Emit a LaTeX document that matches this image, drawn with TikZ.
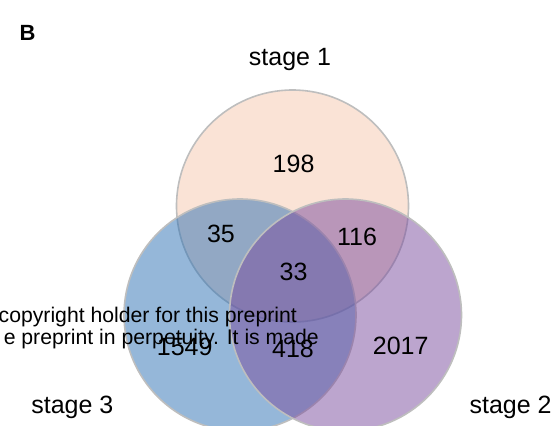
\documentclass[tikz,border=0pt]{standalone}
\usepackage{fontspec}
\setmainfont{Liberation Sans}
\definecolor{stageone}{RGB}{245,199,173}
\definecolor{stagetwo}{RGB}{121,75,157}
\definecolor{stagethree}{RGB}{43,111,179}
\definecolor{rimgray}{RGB}{190,190,190}
\begin{document}
\begin{tikzpicture}[x=1pt, y=-1pt,
  venn/.style={circle, draw=rimgray, line width=1.6pt, fill opacity=0.5, minimum size=232pt, inner sep=0pt},
  count/.style={anchor=base, inner sep=0pt, font=\fontsize{25}{30}\selectfont},
  stagelabel/.style={anchor=base, inner sep=0pt, font=\fontsize{25}{30}\selectfont},
  stamp/.style={anchor=base east, inner sep=0pt, font=\fontsize{21.2}{25}\selectfont}]
\useasboundingbox (0,0) rectangle (555,426); % Bildgroesse
\clip (0,0) rectangle (555,426);
% Kreise
\node[venn, fill=stageone] (c1) at (292.5,206) {};
\node[venn, fill=stagethree] (c3) at (240,315) {};
\node[venn, fill=stagetwo] (c2) at (345.5,315) {};
% Titel und Gruppen
\node[anchor=base west, inner sep=0pt, font=\fontsize{22}{26}\selectfont\bfseries] (panel) at (19.5,40) {B};
\node[stagelabel] (l1) at (290,65) {stage 1};
\node[stagelabel] (l3) at (72.4,413) {stage 3};
\node[stagelabel] (l2) at (510.6,413) {stage 2};
% Anzahlen
\foreach \x/\y/\n in {293.6/172.3/198, 221/242/35, 357/245/116, 293.6/280.7/33, 184.7/355.3/1549, 293/357.7/418, 400.7/354.3/2017} {
  \node[count] (n\n) at (\x,\y) {\n};
}
% Wasserzeichen
\node[stamp] (w1) at (297,322.7) {copyright holder for this preprint};
\node[stamp] (w2) at (319,344) {e preprint in perpetuity. It is made};
\end{tikzpicture}
\end{document}
